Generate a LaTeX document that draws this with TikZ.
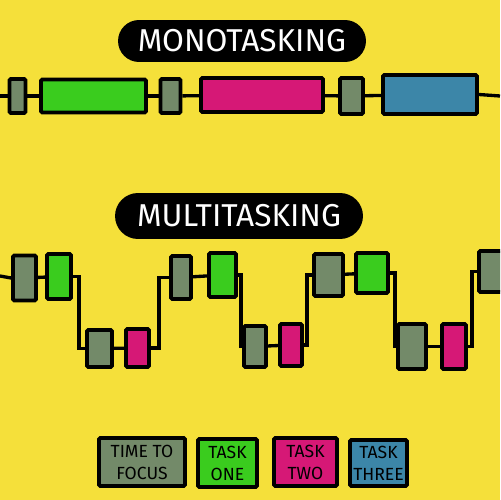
\documentclass[tikz,border=0pt]{standalone}
\usepackage{fontspec}
\setmainfont{Fira Sans}
\usepackage{tikz}
\usetikzlibrary{calc}

\definecolor{bgyellow}{RGB}{245,224,58}
\definecolor{focusgray}{RGB}{115,138,105}
\definecolor{taskgreen}{RGB}{58,204,30}
\definecolor{taskpink}{RGB}{214,24,118}
\definecolor{taskblue}{RGB}{60,134,168}

\tikzset{
  box/.style={draw=black, line width=2.2pt, rounded corners=0.8pt, inner sep=0pt},
  focus/.style={box, fill=focusgray},
  one/.style={box, fill=taskgreen},
  two/.style={box, fill=taskpink},
  three/.style={box, fill=taskblue},
  wire/.style={draw=black, line width=1.9pt},
  banner/.style={fill=black, text=white, inner sep=0pt, font=\fontsize{18}{20}\selectfont},
  key/.style={align=center, font=\fontsize{10}{12.5}\selectfont}
}

\begin{document}
\begin{tikzpicture}[x=0.02cm, y=-0.02cm]
\fill[bgyellow] (0,0) rectangle (500,500);
\clip (0,0) rectangle (500,500);

\node[banner, minimum width=4.96cm, minimum height=0.84cm, rounded corners=0.42cm] (monotitle) at (242,41) {MONOTASKING};
\node[banner, minimum width=4.96cm, minimum height=0.92cm, rounded corners=0.46cm] (multititle) at (239,216) {MULTITASKING};

\coordinate (monostart) at (0,96);
\coordinate (monoend) at (500,96);
\node[focus, minimum width=0.32cm, minimum height=0.68cm] (m1) at (17.5,96) {};
\node[one, minimum width=2.10cm, minimum height=0.66cm] (m2) at (93.5,96) {};
\node[focus, minimum width=0.40cm, minimum height=0.68cm] (m3) at (170.5,96) {};
\node[two, minimum width=2.44cm, minimum height=0.68cm] (m4) at (262,95) {};
\node[focus, minimum width=0.46cm, minimum height=0.72cm] (m5) at (351.5,96) {};
\node[three, minimum width=1.88cm, minimum height=0.78cm] (m6) at (430,94.5) {};
\draw[wire] (monostart) -- (m1.west);
\draw[wire] (m1) -- (m2);
\draw[wire] (m2) -- (m3);
\draw[wire] (m3) -- (m4);
\draw[wire] (m4) -- (m5);
\draw[wire] (m5) -- (m6);
\draw[wire] (m6.east) -- (monoend);

\coordinate (multistart) at (0,276);
\node[focus, minimum width=0.46cm, minimum height=0.90cm] (a) at (24.5,278) {};
\node[one, minimum width=0.48cm, minimum height=0.90cm] (b) at (59,276.5) {};
\node[focus, minimum width=0.50cm, minimum height=0.74cm] (c) at (99.5,348.5) {};
\node[two, minimum width=0.46cm, minimum height=0.76cm] (d) at (137.5,348) {};
\node[focus, minimum width=0.40cm, minimum height=0.86cm] (e) at (181,277.5) {};
\node[one, minimum width=0.54cm, minimum height=0.88cm] (f) at (222.5,275) {};
\node[focus, minimum width=0.44cm, minimum height=0.82cm] (g) at (255,346.5) {};
\node[two, minimum width=0.44cm, minimum height=0.84cm] (h) at (291,345) {};
\node[focus, minimum width=0.58cm, minimum height=0.84cm] (i) at (328.5,275) {};
\node[one, minimum width=0.64cm, minimum height=0.80cm] (j) at (372,273) {};
\node[focus, minimum width=0.56cm, minimum height=0.90cm] (k) at (412,346.5) {};
\node[two, minimum width=0.48cm, minimum height=0.90cm] (l) at (454,346.5) {};
\node[focus, minimum width=0.60cm, minimum height=0.82cm] (m) at (494,271.5) {};
\draw[wire] (multistart) -- (a.west);
\draw[wire] (a) -- (b);
\draw[wire] (b.east) -- ++(6,0) |- (c.west);
\draw[wire] (c) -- (d);
\draw[wire] (d.east) -- ++(8,0) |- (e.west);
\draw[wire] (e) -- (f);
\draw[wire] (f.east) -- ++(3,0) |- (g.west);
\draw[wire] (g) -- (h);
\draw[wire] (h.east) -- ++(3,0) |- (i.west);
\draw[wire] (i) -- (j);
\draw[wire] (j.east) -- ++(5,0) |- (k.west);
\draw[wire] (k) -- (l);
\draw[wire] (l.east) -- ++(4,0) |- (m.west);

\node[focus, key, minimum width=1.72cm, minimum height=0.96cm] (focuskey) at (142,462) {TIME TO\\FOCUS};
\node[one, key, minimum width=1.18cm, minimum height=0.96cm] (onekey) at (227.5,463) {TASK\\ONE};
\node[two, key, minimum width=1.26cm, minimum height=0.96cm] (twokey) at (305.5,462) {TASK\\TWO};
\node[three, key, minimum width=1.14cm, minimum height=0.92cm] (threekey) at (378.5,463) {TASK\\THREE};
\end{tikzpicture}
\end{document}
